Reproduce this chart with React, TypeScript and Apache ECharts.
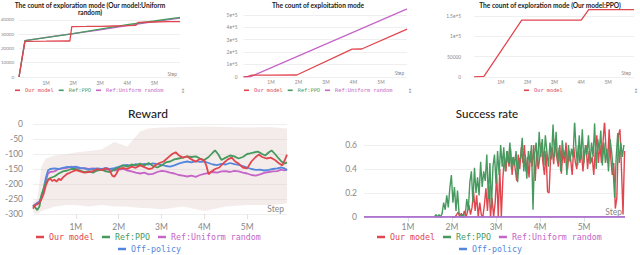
import React, { useEffect, useRef } from "react";
import * as echarts from "echarts";

// ---------------- data ----------------
const SERIES_NAMES = ["Our model", "Ref:PPO", "Ref:Uniform random", "Off-policy"];

// Panel 1: The count of exploration mode (Our model:Uniform random)  x in M steps
const explUniformOurs = [
  [0, 0], [0.22, 25000], [1.0, 25100], [1.8, 25300], [1.88, 25200], [1.95, 35300],
  [2.5, 35400], [3.0, 35500], [3.5, 35700], [4.0, 35900], [4.32, 36100], [4.4, 38200],
  [5.0, 38500], [5.5, 38700], [5.95, 38800],
];
const explUniformPPO = [
  [0, 0], [0.22, 25500], [1.0, 27600], [2.0, 30400], [3.0, 33500], [4.0, 36600], [5.0, 39200], [5.95, 41800],
];
const explUniformRandom = [
  [0, 0], [0.22, 25500], [1.0, 27800], [2.0, 30300], [3.0, 33000], [4.0, 35900], [5.0, 38700], [5.95, 41200],
];

// Panel 2: The count of exploitation mode
const exploitOurs = [
  [0, 0], [0.12, 0], [0.3, 14000], [1.0, 14000], [1.94, 14500], [3.95, 224000], [4.3, 225000], [5.95, 385000],
];
const exploitRandom = [[0, 0], [0.24, 0], [5.95, 549000]];

// Panel 3: The count of exploration mode (Our model:PPO)
const explPPOOurs = [
  [0, 0], [0.37, 1000], [1.78, 140000], [4.0, 140000], [4.28, 166000], [5.97, 166000],
];

// Reward (smoothed)
const rewardOurs = [
  [0, -282], [0.05, -270], [0.1, -268], [0.15, -262], [0.2, -250], [0.25, -232], [0.3, -205], [0.35, -188],
  [0.4, -182], [0.45, -190], [0.5, -186], [0.55, -192], [0.6, -183], [0.65, -187], [0.7, -178], [0.8, -166],
  [0.9, -160], [1.0, -154], [1.1, -158], [1.2, -162], [1.3, -160], [1.4, -157], [1.5, -150], [1.6, -154],
  [1.7, -148], [1.78, -152], [1.85, -172], [1.9, -176], [1.95, -165], [2.0, -150], [2.1, -146], [2.2, -150],
  [2.3, -142], [2.4, -146], [2.5, -138], [2.6, -144], [2.7, -150], [2.78, -148], [2.85, -138], [2.95, -130],
  [3.05, -125], [3.15, -112], [3.25, -100], [3.33, -94], [3.4, -104], [3.5, -112], [3.6, -108], [3.7, -118],
  [3.8, -126], [3.9, -116], [4.0, -122], [4.05, -140], [4.1, -168], [4.15, -160], [4.25, -150], [4.35, -145],
  [4.45, -130], [4.55, -118], [4.64, -112], [4.72, -125], [4.8, -132], [4.9, -145], [5.0, -148], [5.1, -125],
  [5.2, -110], [5.27, -102], [5.35, -110], [5.45, -115], [5.55, -112], [5.65, -120], [5.75, -132], [5.82, -138],
  [5.88, -120], [5.93, -102],
];
const rewardPPO = [
  [0, -270], [0.05, -278], [0.1, -287], [0.15, -275], [0.2, -235], [0.25, -215], [0.3, -195], [0.35, -185],
  [0.4, -180], [0.5, -175], [0.6, -165], [0.7, -158], [0.8, -155], [0.9, -150], [1.0, -150], [1.1, -155],
  [1.2, -160], [1.3, -158], [1.4, -162], [1.5, -155], [1.6, -152], [1.7, -158], [1.8, -160], [1.9, -152],
  [2.0, -145], [2.1, -138], [2.2, -142], [2.3, -135], [2.4, -138], [2.5, -132], [2.6, -138], [2.7, -130],
  [2.8, -140], [2.9, -145], [3.0, -138], [3.1, -128], [3.2, -125], [3.3, -118], [3.4, -115], [3.5, -112],
  [3.6, -108], [3.7, -110], [3.8, -108], [3.9, -115], [4.0, -120], [4.1, -110], [4.2, -95], [4.25, -88],
  [4.32, -100], [4.4, -120], [4.5, -112], [4.6, -105], [4.7, -108], [4.8, -115], [4.9, -110], [5.0, -100],
  [5.07, -98], [5.15, -95], [5.25, -92], [5.35, -100], [5.42, -105], [5.5, -95], [5.57, -88], [5.65, -100],
  [5.73, -114], [5.8, -125], [5.87, -132], [5.93, -128],
];
const rewardUniform = [
  [0, -278], [0.05, -272], [0.1, -262], [0.15, -265], [0.2, -245], [0.25, -220], [0.3, -190], [0.35, -165],
  [0.4, -160], [0.5, -158], [0.6, -150], [0.7, -148], [0.8, -146], [0.9, -142], [1.0, -145], [1.1, -148],
  [1.2, -147], [1.3, -150], [1.4, -148], [1.5, -152], [1.6, -150], [1.7, -153], [1.8, -150], [1.9, -155],
  [2.0, -152], [2.1, -150], [2.2, -155], [2.3, -158], [2.4, -162], [2.5, -165], [2.6, -162], [2.7, -168],
  [2.8, -166], [2.9, -160], [3.0, -156], [3.1, -158], [3.2, -162], [3.3, -165], [3.4, -170], [3.5, -172],
  [3.6, -175], [3.7, -172], [3.8, -176], [3.9, -170], [4.0, -166], [4.1, -163], [4.2, -160], [4.3, -162],
  [4.4, -158], [4.5, -157], [4.6, -160], [4.7, -156], [4.8, -158], [4.9, -162], [5.0, -165], [5.1, -170],
  [5.2, -172], [5.3, -168], [5.4, -163], [5.5, -160], [5.6, -158], [5.7, -157], [5.8, -152], [5.87, -155],
  [5.93, -150],
];
const rewardOffPolicy = [
  [0, -275], [0.05, -268], [0.1, -265], [0.15, -258], [0.2, -240], [0.25, -215], [0.3, -180], [0.35, -155],
  [0.4, -150], [0.5, -148], [0.6, -150], [0.7, -146], [0.8, -143], [0.9, -145], [1.0, -142], [1.1, -146],
  [1.2, -148], [1.3, -152], [1.4, -150], [1.5, -148], [1.6, -150], [1.7, -146], [1.8, -150], [1.9, -147],
  [2.0, -143], [2.1, -138], [2.2, -136], [2.3, -140], [2.4, -134], [2.5, -137], [2.6, -133], [2.7, -135],
  [2.8, -131], [2.9, -134], [3.0, -136], [3.1, -140], [3.2, -142], [3.3, -138], [3.4, -132], [3.5, -128],
  [3.6, -125], [3.7, -128], [3.8, -124], [3.9, -126], [4.0, -125], [4.1, -130], [4.2, -135], [4.3, -137],
  [4.4, -133], [4.5, -135], [4.6, -130], [4.7, -134], [4.8, -136], [4.9, -140], [5.0, -145], [5.1, -150],
  [5.2, -153], [5.3, -152], [5.4, -155], [5.5, -153], [5.6, -150], [5.7, -148], [5.8, -145], [5.87, -148],
  [5.93, -155],
];
// faint raw-data envelope behind the reward lines: [x, low, high]
const rewardBand = [
  [0, -295, -262], [0.1, -300, -250], [0.2, -290, -140], [0.3, -285, -115], [0.5, -275, -105], [0.8, -270, -100],
  [1.0, -270, -95], [1.3, -275, -90], [1.6, -270, -85], [1.9, -275, -60], [2.2, -275, -75], [2.5, -280, -25],
  [2.7, -280, -15], [3.0, -285, -12], [3.5, -275, -10], [4.0, -290, -8], [4.5, -275, -10], [5.0, -270, -12],
  [5.5, -270, -10], [5.93, -265, -15],
];

// Success rate (raw), sampled every SUCCESS_STEP M steps
const SUCCESS_STEP = 0.035;
const successPPOStart = 1.6;
const successPPO = [
  0, 0.02, 0, 0.02, 0, 0.03, 0.12, 0.06, 0.18, 0.08, 0.24, 0.35, 0.12, 0.25, 0.05, 0.22, 0.03, 0, 0.02, 0,
  0.01, 0.15, 0.06, 0.29, 0.38, 0.12, 0.41, 0.2, 0.33, 0.18, 0.46, 0.25, 0.38, 0.3, 0.52, 0.15, 0.45, 0.08, 0.42, 0.52,
  0.28, 0.55, 0.35, 0.6, 0.42, 0.58, 0.38, 0.55, 0.45, 0.62, 0.4, 0.5, 0.43, 0.55, 0.29, 0.47, 0.5, 0.66, 0.38, 0.52,
  0.32, 0.55, 0.45, 0.6, 0.06, 0.52, 0.62, 0.42, 0.71, 0.5, 0.65, 0.43, 0.68, 0.55, 0.42, 0.62, 0.48, 0.77, 0.5, 0.71,
  0.45, 0.58, 0.38, 0.64, 0.5, 0.56, 0.35, 0.6, 0.46, 0.57, 0.5, 0.8, 0.55, 0.43, 0.68, 0.48, 0.73, 0.45, 0.6, 0.52,
  0.68, 0.44, 0.62, 0.5, 0.78, 0.4, 0.65, 0.55, 0.72, 0.43, 0.62, 0.45, 0.57, 0.38, 0.65, 0.55, 0.4, 0.16, 0.5, 0.7,
  0.45, 0.62, 0.5, 0.6,
];
const successOursStart = 2.0;
const successOurs = [
  0, 0, 0, 0.02, 0.04, 0, 0.03, 0, 0.05, 0, 0.04, 0.1, 0.02, 0.08, 0.21, 0.05, 0.18, 0, 0.12, 0.02,
  0, 0.1, 0.24, 0.05, 0.26, 0, 0.16, 0, 0.12, 0.36, 0, 0.4, 0, 0.32, 0.5, 0.38, 0.55, 0.42, 0.57, 0.35,
  0.5, 0.4, 0.3, 0.52, 0.4, 0.58, 0.45, 0.6, 0.38, 0.5, 0.33, 0.55, 0.42, 0.6, 0.3, 0.55, 0.4, 0.5, 0.62, 0.45,
  0.35, 0.55, 0.21, 0.2, 0.5, 0.58, 0.44, 0.65, 0.5, 0.42, 0.6, 0.36, 0.55, 0.45, 0.62, 0.4, 0.55, 0.48, 0.35, 0.58,
  0.46, 0.4, 0.6, 0.45, 0.55, 0.38, 0.52, 0.6, 0.4, 0.55, 0.45, 0.5, 0.35, 0.55, 0.68, 0.45, 0.6, 0.45, 0.62, 0.8,
  0.55, 0.45, 0.73, 0.5, 0.35, 0.45, 0.07, 0.16, 0.68, 0.73, 0.4, 0.02, 0.55,
];
const successUniform = [[0, 0], [5.93, 0]];
const successOffPolicy = [[0, 0], [5.93, 0]];

// ---------------- styling ----------------
const COLORS: Record<string, string> = {
  "Our model": "#e1464f",
  "Ref:PPO": "#479a5f",
  "Ref:Uniform random": "#c565c7",
  "Off-policy": "#5387dd",
};
const SANS = "Lato, 'Noto Sans', sans-serif";
const MONO = "'DejaVu Sans Mono', monospace";
const LABEL = "#888";

const toXY = (start: number, vals: number[]) => vals.map((v, i) => [+(start + i * SUCCESS_STEP).toFixed(3), v]);

function lineSeries(name: string, data: any[], axis: number, width: number, z = 2) {
  const color = COLORS[name];
  return {
    type: "line", name, data, xAxisIndex: axis, yAxisIndex: axis, symbol: "none", showSymbol: false,
    color, itemStyle: { color }, lineStyle: { color, width }, z, silent: true,
  };
}

function xAxis(grid: number, max: number, fs: number, margin: number, ticks: boolean) {
  return {
    type: "value", gridIndex: grid, min: 0, max, interval: 1,
    axisLine: { show: false, onZero: false },
    axisTick: { show: ticks, length: 5, lineStyle: { color: "#e2e2e2" } },
    splitLine: { show: false },
    axisLabel: {
      fontSize: fs, color: LABEL, fontFamily: SANS, margin, showMinLabel: false, showMaxLabel: false,
      formatter: (v: number) => (v === 0 || v > 5.5 ? "" : `${v}M`),
    },
    name: "Step", nameLocation: "end", nameGap: -3,
    nameTextStyle: { fontSize: fs, color: LABEL, fontFamily: SANS, align: "right", verticalAlign: "bottom", padding: [0, 0, 1, 0] },
  };
}

function yAxis(grid: number, min: number, max: number, interval: number, fs: number, margin: number,
  formatter: (v: number) => string, showMax: boolean) {
  return {
    type: "value", gridIndex: grid, min, max, interval,
    axisLine: { show: false }, axisTick: { show: false },
    splitLine: { show: true, showMaxLine: showMax, lineStyle: { color: "#efefef", width: 1 } },
    axisLabel: { fontSize: fs, color: LABEL, fontFamily: SANS, margin, showMaxLabel: showMax, formatter },
  };
}

function legend(left: number, top: number, names: string[], fs: number, iw: number, ih: number, gap: number) {
  return {
    left, top, orient: "horizontal", padding: 0, itemGap: gap, itemWidth: iw, itemHeight: ih,
    icon: "rect", selectedMode: false,
    textStyle: { fontFamily: MONO, fontSize: fs },
    data: names.map((n) => ({ name: n, textStyle: { color: COLORS[n] } })),
  };
}

const sciFmt = (v: number) => (v === 0 ? "0" : v >= 100000 ? `${+(v / 1e5).toFixed(2)}e+5` : `${v}`);

function titleText(x: number, y: number, text: string, size: number, weight: any) {
  return {
    type: "text", x, y, silent: true,
    style: { text, fill: "#222", fontSize: size, fontWeight: weight, fontFamily: SANS, textAlign: "center", textVerticalAlign: "middle" },
  };
}
function scrollIcon(x: number, y: number) {
  return {
    type: "text", x, y, silent: true,
    style: { text: "↕", fill: "#999", fontSize: 6, fontFamily: "'DejaVu Sans', sans-serif", textAlign: "center", textVerticalAlign: "middle" },
  };
}

export default function App() {
  const ref = useRef<HTMLDivElement>(null);
  useEffect(() => {
    if (!ref.current) return;
    const chart = echarts.init(ref.current, undefined, { renderer: "svg" });
    const option: any = {
      animation: false,
      backgroundColor: "#ffffff",
      grid: [
        { left: 19, top: 17, width: 161, height: 60, outerBoundsMode: "none" },
        { left: 243.5, top: 8.8, width: 163.6, height: 68, outerBoundsMode: "none" },
        { left: 474, top: 8.8, width: 160, height: 68, outerBoundsMode: "none" },
        { left: 33, top: 124, width: 254, height: 90, outerBoundsMode: "none" },
        { left: 364, top: 123.4, width: 261, height: 93.6, outerBoundsMode: "none" },
      ],
      xAxis: [
        xAxis(0, 5.95, 4.8, 3, false),
        xAxis(1, 5.95, 4.8, 3, false),
        xAxis(2, 5.97, 4.8, 3, false),
        xAxis(3, 5.93, 8.5, 8, true),
        xAxis(4, 5.93, 8.5, 5, true),
      ],
      yAxis: [
        yAxis(0, 0, 42000, 10000, 4.5, 5, (v) => `${v}`, false),
        yAxis(1, 0, 550000, 100000, 4.8, 6, sciFmt, false),
        yAxis(2, 0, 168000, 50000, 4.8, 13, sciFmt, false),
        yAxis(3, -300, 0, 50, 8.5, 10, (v) => `${v}`, true),
        yAxis(4, 0, 0.78, 0.2, 8.5, 7, (v) => `${+v.toFixed(1)}`, false),
      ],
      legend: [
        legend(15, 87.8, SERIES_NAMES.slice(0, 3), 5.3, 5, 1.6, 5),
        legend(244, 87.8, SERIES_NAMES.slice(0, 3), 5.3, 5, 1.6, 5),
        legend(524, 87.8, SERIES_NAMES.slice(0, 1), 5.3, 5, 1.6, 5),
        legend(36, 233, SERIES_NAMES.slice(0, 3), 8.3, 8, 2.5, 8),
        legend(118, 245, SERIES_NAMES.slice(3), 8.3, 8, 2.5, 8),
        legend(377, 233, SERIES_NAMES.slice(0, 3), 8.3, 8, 2.5, 8),
        legend(459, 245, SERIES_NAMES.slice(3), 8.3, 8, 2.5, 8),
      ],
      graphic: [
        titleText(90, 4.8, "The count of exploration mode (Our model:Uniform", 6.6, "bold"),
        titleText(90, 12.4, "random)", 6.6, "bold"),
        titleText(318, 4.8, "The count of exploitation mode", 6.6, "bold"),
        titleText(550, 4.8, "The count of exploration mode (Our model:PPO)", 6.6, "bold"),
        titleText(148, 113, "Reward", 12, 500),
        titleText(487, 113, "Success rate", 11.5, 500),
        scrollIcon(183, 90.5),
        scrollIcon(410, 90.5),
        scrollIcon(636, 90.5),
      ],
      series: [
        // panel 1
        lineSeries("Ref:Uniform random", explUniformRandom, 0, 1.3),
        lineSeries("Ref:PPO", explUniformPPO, 0, 1.3, 3),
        lineSeries("Our model", explUniformOurs, 0, 1.3, 4),
        // panel 2
        lineSeries("Ref:Uniform random", exploitRandom, 1, 1.3),
        lineSeries("Our model", exploitOurs, 1, 1.3, 4),
        // panel 3
        lineSeries("Our model", explPPOOurs, 2, 1.3, 4),
        // reward band (raw-data envelope)
        {
          type: "custom", name: "_band", xAxisIndex: 3, yAxisIndex: 3, silent: true, z: 1, clip: true,
          data: rewardBand,
          encode: { x: 0, y: [1, 2] },
          renderItem: (params: any, api: any) => {
            if (params.dataIndex !== 0) return null;
            const top = rewardBand.map((d) => api.coord([d[0], d[2]]));
            const bottom = rewardBand.slice().reverse().map((d) => api.coord([d[0], d[1]]));
            return {
              type: "polygon",
              shape: { points: top.concat(bottom) },
              style: { fill: "rgba(222,195,190,0.32)" },
            };
          },
        },
        lineSeries("Ref:Uniform random", rewardUniform, 3, 1.8, 2),
        lineSeries("Off-policy", rewardOffPolicy, 3, 1.8, 3),
        lineSeries("Ref:PPO", rewardPPO, 3, 1.8, 4),
        lineSeries("Our model", rewardOurs, 3, 1.8, 5),
        // success rate
        lineSeries("Our model", toXY(successOursStart, successOurs), 4, 1.4, 3),
        lineSeries("Ref:PPO", toXY(successPPOStart, successPPO), 4, 1.4, 4),
        lineSeries("Off-policy", successOffPolicy, 4, 1.4, 5),
        lineSeries("Ref:Uniform random", successUniform, 4, 1.4, 6),
      ],
    };
    chart.setOption(option);
    return () => chart.dispose();
  }, []);
  return (
    <div
      ref={ref}
      style={{ position: "fixed", left: 0, top: 0, width: 640, height: 255, background: "#fff" }}
    />
  );
}
